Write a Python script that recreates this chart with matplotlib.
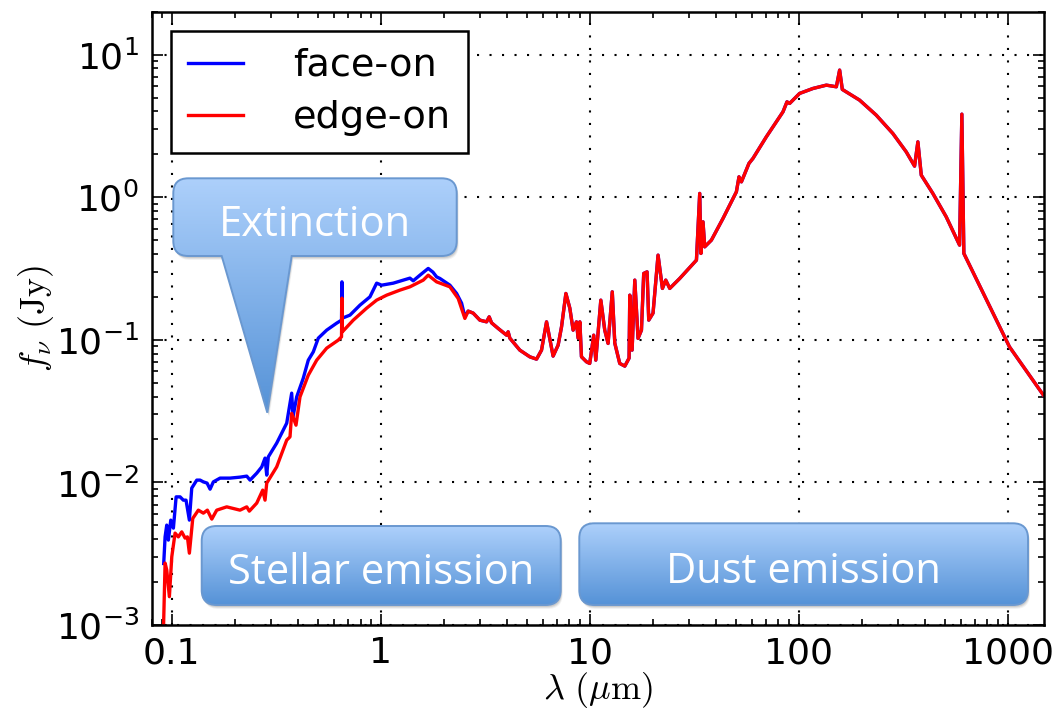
import numpy as np
import matplotlib
matplotlib.use("Agg")
import matplotlib.pyplot as plt
from matplotlib.path import Path
from matplotlib.patches import PathPatch
from matplotlib.colors import LinearSegmentedColormap
from matplotlib.ticker import FuncFormatter, NullFormatter

plt.rcParams['mathtext.fontset'] = 'cm'

# face-on, UV to near-IR part (wavelength in micron, flux in Jy)
wl_face = [0.0915, 0.0929, 0.0946, 0.0963, 0.0989, 0.1018, 0.1049, 0.1096, 0.1136, 0.1170,
           0.1214, 0.1246, 0.1317, 0.1366, 0.1416, 0.1475, 0.1525, 0.1581, 0.1702, 0.1900,
           0.2121, 0.2284, 0.2369, 0.2550, 0.2695, 0.2794, 0.2847, 0.2897, 0.3177, 0.3357,
           0.3548, 0.3748, 0.3803, 0.3961, 0.4259, 0.4500, 0.4755, 0.5024, 0.5510, 0.6152,
           0.649, 0.652, 0.655, 0.7122, 0.7953, 0.8877, 0.9557, 1.010, 1.148, 1.379,
           1.430, 1.540, 1.687, 1.777, 1.850, 1.919, 2.142, 2.307, 2.437, 2.527]
f_face = [0.0027, 0.00415, 0.00502, 0.00394, 0.00544, 0.00478, 0.00792, 0.00792, 0.00751, 0.00751,
          0.00544, 0.00912, 0.01038, 0.01038, 0.01009, 0.00989, 0.00897, 0.01009, 0.01072, 0.01072,
          0.01089, 0.01107, 0.01038, 0.01161, 0.01285, 0.01481, 0.01125, 0.01511, 0.01885, 0.02216,
          0.02603, 0.04228, 0.02884, 0.03983, 0.05386, 0.0720, 0.0823, 0.1027, 0.1169, 0.1309,
          0.1374, 0.2550, 0.1419, 0.1490, 0.1751, 0.2002, 0.2497, 0.2417, 0.2497, 0.2708,
          0.2593, 0.2841, 0.3167, 0.2983, 0.2764, 0.2694, 0.2417, 0.2114, 0.1808, 0.1449]

# edge-on, UV to near-IR part
wl_edge = [0.0912, 0.0929, 0.0946, 0.0974, 0.1000, 0.1037, 0.1075, 0.1116, 0.1158, 0.1188,
           0.1214, 0.1260, 0.1340, 0.1416, 0.1480, 0.1554, 0.1641, 0.1832, 0.2121, 0.2284,
           0.2350, 0.2550, 0.2724, 0.2794, 0.2847, 0.3177, 0.3548, 0.3679, 0.3748, 0.3930,
           0.4107, 0.4500, 0.4937, 0.5510, 0.6260, 0.649, 0.652, 0.655, 0.7386, 0.8560,
           0.9557, 1.067, 1.235, 1.379, 1.597, 1.687, 1.850, 2.142, 2.347, 2.527]
f_edge = [0.0009, 0.00272, 0.00243, 0.00158, 0.00301, 0.00441, 0.00415, 0.0045, 0.00407, 0.00415,
          0.00319, 0.00559, 0.00639, 0.00609, 0.00639, 0.00553, 0.00639, 0.00674, 0.00639, 0.00674,
          0.00629, 0.00716, 0.00883, 0.00751, 0.00989, 0.01285, 0.0198, 0.02087, 0.0305, 0.0252,
          0.0398, 0.0565, 0.0720, 0.0874, 0.0995, 0.105, 0.196, 0.1138, 0.1374, 0.1668,
          0.1898, 0.2057, 0.2231, 0.2353, 0.2622, 0.2841, 0.255, 0.2353, 0.1950, 0.1413]

# mid/far-IR part, both curves lie on top of each other here
wl_ir = [2.620, 2.769, 2.981, 3.209, 3.303, 3.390, 3.646, 4.00, 4.07, 4.147,
         4.629, 5.168, 5.566, 5.880, 6.214, 6.68, 7.06, 7.33, 7.69, 8.03,
         8.33, 8.64, 8.80, 8.97, 9.13, 9.65, 10.0, 10.45, 10.69, 11.30,
         11.80, 12.24, 12.82, 13.18, 13.92, 14.72, 15.43, 15.55, 15.95, 16.43,
         17.03, 17.68, 18.13, 18.81, 19.16, 20.09, 21.23, 22.28, 23.11, 24.15,
         26.96, 32.41, 33.6, 34.05, 34.84, 35.5, 38.22, 43.43, 50.33, 51.8,
         53.2, 57.8, 60.4, 70.0, 84.1, 87.9, 90.5, 101, 117, 135.6,
         151.4, 157, 161.7, 195.6, 235, 282, 327, 358.5, 371.8, 386,
         438.5, 508, 588.6, 603.6, 617, 984, 1020, 1483]
f_ir = [0.1590, 0.1539, 0.1374, 0.1337, 0.1449, 0.1316, 0.1202, 0.1078, 0.1138, 0.1027,
        0.0847, 0.0760, 0.0732, 0.0847, 0.1337, 0.0769, 0.0918, 0.1234, 0.2114, 0.1668,
        0.1169, 0.1337, 0.1027, 0.1337, 0.0760, 0.0701, 0.0683, 0.1078, 0.0720, 0.1898,
        0.1169, 0.0943, 0.2170, 0.0948, 0.0683, 0.0654, 0.0744, 0.2057, 0.0847, 0.2622,
        0.1023, 0.1169, 0.2921, 0.2997, 0.1374, 0.1539, 0.3926, 0.2293, 0.2622, 0.2293,
        0.2694, 0.3621, 1.063, 0.4035, 0.672, 0.4489, 0.5003, 0.710, 1.091, 1.390,
        1.282, 1.726, 1.871, 2.652, 3.971, 4.667, 4.548, 5.345, 5.79, 6.11,
        5.95, 7.79, 5.70, 4.797, 3.764, 2.802, 2.081, 1.652, 2.446, 1.428,
        1.063, 0.729, 0.4614, 3.825, 0.4035, 0.0995, 0.0893, 0.0409]

x_ticks = [0.1, 1, 10, 100, 1000]

fig = plt.figure(figsize=(10.53, 7.18), dpi=100)
ax = fig.add_axes([0.1439, 0.1295, 0.848, 0.8542])

ax.plot(wl_face + wl_ir, f_face + f_ir, color='#0000ff', lw=2.4, label='face-on')
ax.plot(wl_edge + wl_ir, f_edge + f_ir, color='#ff0000', lw=2.4, label='edge-on')

ax.set_xscale('log')
ax.set_yscale('log')
ax.set_xlim(0.08, 1500)
ax.set_ylim(1e-3, 20)

ax.set_xticks(x_ticks)
ax.xaxis.set_major_formatter(FuncFormatter(lambda v, p: '%g' % v))
ax.yaxis.set_major_formatter(FuncFormatter(lambda v, p: r'$\mathregular{10^{%d}}$' % round(np.log10(v))))
ax.xaxis.set_minor_formatter(NullFormatter())
ax.yaxis.set_minor_formatter(NullFormatter())

ax.tick_params(which='both', direction='in', top=True, right=True, width=1.2, color='k')
ax.tick_params(which='major', length=8, labelsize=26)
ax.tick_params(axis='x', which='major', pad=8)
ax.tick_params(axis='y', which='major', pad=9)
ax.tick_params(which='minor', length=4)

for s in ax.spines.values():
    s.set_linewidth(1.8)

ax.grid(True, which='major', color='k', linestyle=(0, (1, 5)), linewidth=1.5)

ax.set_xlabel(r'$\lambda\ (\mu{\rm m})$', fontsize=26, labelpad=0)
ax.set_ylabel(r'$f_\nu\ ({\rm Jy})$', fontsize=26, labelpad=0)

leg = ax.legend(loc='upper left', fontsize=27.5, handlelength=1.45, handletextpad=1.3,
                labelspacing=0.42, borderpad=0.45, borderaxespad=0.5, fancybox=False)
leg.get_frame().set_edgecolor('k')
leg.get_frame().set_linewidth(1.8)
leg.get_frame().set_alpha(1)

# overlay in pixel coordinates for the call-out boxes
ov = fig.add_axes([0, 0, 1, 1], zorder=5)
ov.patch.set_alpha(0)
ov.axis('off')

cmap = LinearSegmentedColormap.from_list('box', ['#add0fb', '#5592d7'])


def box_path(x0, y0, x1, y1, r=15, pointer=None):
    v = [(x0 + r, y0), (x1 - r, y0), (x1, y0), (x1, y0 + r), (x1, y1 - r), (x1, y1), (x1 - r, y1)]
    c = [Path.MOVETO, Path.LINETO, Path.CURVE3, Path.CURVE3, Path.LINETO, Path.CURVE3, Path.CURVE3]
    if pointer is not None:
        pb0, pb1, tx, ty = pointer
        v += [(pb1, y1), (tx, ty), (pb0, y1)]
        c += [Path.LINETO] * 3
    v += [(x0 + r, y1), (x0, y1), (x0, y1 - r), (x0, y0 + r), (x0, y0), (x0 + r, y0), (x0 + r, y0)]
    c += [Path.LINETO, Path.CURVE3, Path.CURVE3, Path.LINETO, Path.CURVE3, Path.CURVE3, Path.CLOSEPOLY]
    return Path(v, c)


def callout(x0, y0, x1, y1, text, pointer=None):
    ybot = y1 if pointer is None else pointer[3]
    # soft shadow
    for d, a in [(4, 0.05), (3, 0.07), (2, 0.09)]:
        sp = box_path(x0 + d * 0.5, y0 + d, x1 + d * 0.5, y1 + d, pointer=None if pointer is None else
                      (pointer[0] + d * 0.5, pointer[1] + d * 0.5, pointer[2] + d * 0.5, pointer[3] + d))
        ov.add_patch(PathPatch(sp, facecolor='k', edgecolor='none', alpha=a))
    p = box_path(x0, y0, x1, y1, pointer=pointer)
    patch = PathPatch(p, facecolor='none', edgecolor='#6a98d0', lw=1.4, zorder=3)
    ov.add_patch(patch)
    im = ov.imshow(np.linspace(0, 1, 256).reshape(-1, 1), cmap=cmap, origin='upper',
                   extent=(x0, x1, ybot, y0), aspect='auto', zorder=2)
    im.set_clip_path(patch)
    ov.text((x0 + x1) / 2, (y0 + y1) / 2 + 8, text, color='white', fontsize=30,
            family='Open Sans', ha='center', va='center', zorder=4)


callout(173.3, 178.3, 456.7, 256, 'Extinction', pointer=(221.7, 291.7, 267.3, 412.7))
callout(201.7, 526, 560.7, 605, 'Stellar emission')
callout(579.3, 523.3, 1028, 605, 'Dust emission')

ov.set_xlim(0, 1053)
ov.set_ylim(718, 0)
ov.set_aspect('auto')

fig.savefig('out.png', dpi=100)
